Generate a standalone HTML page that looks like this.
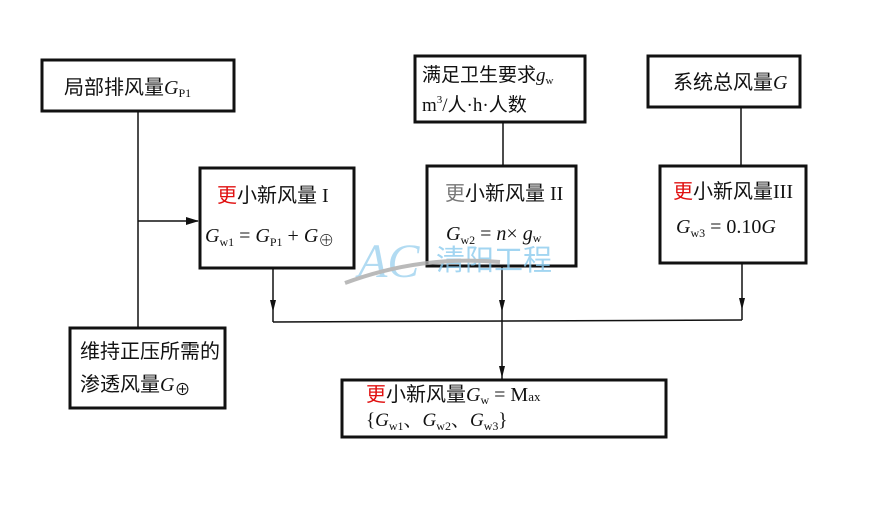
<!DOCTYPE html>
<html><head><meta charset="utf-8"><style>
html,body{margin:0;padding:0;background:#fff;}
svg{display:block;}
text{font-family:"Liberation Serif","Noto Serif CJK SC","Noto Sans CJK SC",serif;fill:#111;}
.cn{font-family:"Liberation Serif","Noto Sans CJK SC",sans-serif;}
</style></head><body>
<svg width="881" height="505" viewBox="0 0 881 505" xmlns="http://www.w3.org/2000/svg">
<rect width="881" height="505" fill="#fff"/>
<g fill="none" stroke="#111">
<rect x="42" y="60" width="192" height="51" stroke-width="3"/>
<rect x="415" y="56" width="170" height="66" stroke-width="3"/>
<rect x="648" y="56" width="152" height="51" stroke-width="3"/>
<rect x="200" y="168" width="154" height="100" stroke-width="3"/>
<rect x="427" y="166" width="149" height="100" stroke-width="3"/>
<rect x="660" y="166" width="146" height="97" stroke-width="3"/>
<rect x="70" y="328" width="155" height="80" stroke-width="3"/>
<rect x="342" y="380" width="324" height="57" stroke-width="3"/>
<g stroke-width="1.5">
<line x1="138" y1="111" x2="138" y2="328"/>
<line x1="138" y1="221" x2="198" y2="221"/>
<line x1="503" y1="122" x2="503" y2="166"/>
<line x1="741" y1="107" x2="741" y2="166"/>
<line x1="273" y1="268" x2="273" y2="322"/>
<line x1="502" y1="266" x2="502" y2="380"/>
<line x1="742" y1="263" x2="742" y2="320"/>
<line x1="273" y1="322" x2="742" y2="320"/>
</g>
</g>
<g fill="#111">
<polygon points="199,221 186,217 186,225"/>
<polygon points="273,312 270,300 276,300"/>
<polygon points="502,312 499,300 505,300"/>
<polygon points="742,310 739,298 745,298"/>
<polygon points="502,378 499,366 505,366"/>
</g>
<text x="64" y="94" font-size="20" class="cn">局部排风量<tspan font-style="italic">G</tspan><tspan font-size="12" dy="3">P1</tspan></text>
<text x="422" y="81" font-size="19" class="cn">满足卫生要求<tspan font-style="italic">g</tspan><tspan font-size="11" dy="3">w</tspan></text>
<text x="422" y="111" font-size="19" class="cn">m<tspan font-size="11" dy="-8">3</tspan><tspan dy="8">/人·h·人数</tspan></text>
<text x="673" y="89" font-size="20" class="cn">系统总风量<tspan font-style="italic">G</tspan></text>
<text x="217" y="202" font-size="20" class="cn"><tspan style="fill:#e01010">更</tspan>小新风量 I</text>
<text x="205" y="242" font-size="20"><tspan font-style="italic">G</tspan><tspan font-size="12" dy="4">w1</tspan><tspan dy="-4"> = </tspan><tspan font-style="italic">G</tspan><tspan font-size="12" dy="4">P1</tspan><tspan dy="-4"> + </tspan><tspan font-style="italic">G</tspan><tspan font-size="16" dy="4">⊕</tspan></text>
<text x="445" y="200" font-size="20" class="cn"><tspan style="fill:#777">更</tspan>小新风量 II</text>
<text x="446" y="240" font-size="20"><tspan font-style="italic">G</tspan><tspan font-size="12" dy="4">w2</tspan><tspan dy="-4"> = </tspan><tspan font-style="italic">n</tspan>× <tspan font-style="italic">g</tspan><tspan font-size="12" dy="2">w</tspan></text>
<text x="673" y="198" font-size="20" class="cn"><tspan style="fill:#e01010">更</tspan>小新风量III</text>
<text x="676" y="233" font-size="20"><tspan font-style="italic">G</tspan><tspan font-size="12" dy="4">w3</tspan><tspan dy="-4"> = 0.10</tspan><tspan font-style="italic">G</tspan></text>
<text x="80" y="358" font-size="20" class="cn">维持正压所需的</text>
<text x="80" y="391" font-size="20" class="cn">渗透风量<tspan font-style="italic">G</tspan><tspan font-size="16" dy="4">⊕</tspan></text>
<text x="366" y="401" font-size="20" class="cn"><tspan style="fill:#e01010">更</tspan>小新风量<tspan font-style="italic">G</tspan><tspan font-size="12" dy="3">w</tspan><tspan dy="-3"> = M</tspan><tspan font-size="13">ax</tspan></text>
<text x="366" y="426" font-size="19">{<tspan font-style="italic">G</tspan><tspan font-size="12" dy="4">w1</tspan><tspan dy="-4">、</tspan><tspan font-style="italic">G</tspan><tspan font-size="12" dy="4">w2</tspan><tspan dy="-4">、</tspan><tspan font-style="italic">G</tspan><tspan font-size="12" dy="4">w3</tspan><tspan dy="-4">}</tspan></text>
<g opacity="0.8">
<text x="358" y="277" font-size="48" style="fill:#9fd3f0" font-family="Liberation Serif,serif" font-style="italic">AC</text>
<text x="436" y="270" font-size="29" style="fill:#8ccbee" class="cn">清阳工程</text>
<path d="M345 283 Q420 255 500 262" stroke="#aaa" stroke-width="4" fill="none"/>
</g>
</svg>
</body></html>
